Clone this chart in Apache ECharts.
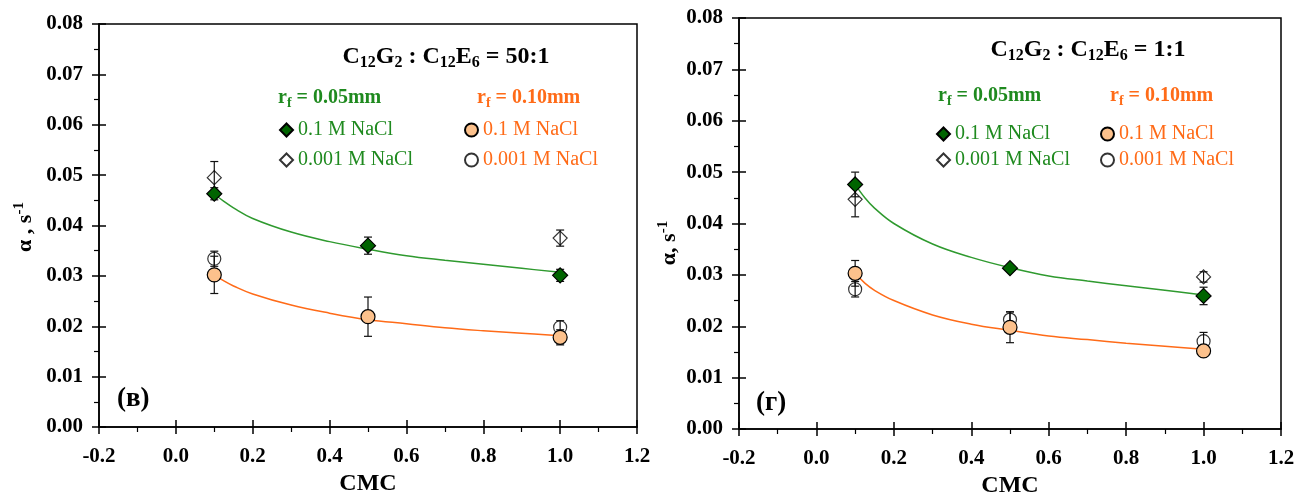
<!DOCTYPE html>
<html>
<head>
<meta charset="utf-8">
<script src="https://cdn.jsdelivr.net/npm/echarts@6/dist/echarts.min.js"></script>
<style>
  html, body { margin: 0; padding: 0; background: #fff; }
  #chart { width: 1294px; height: 497px; }
</style>
</head>
<body>
<div id="chart"></div>
<script>
// Mixed surfactant films: alpha versus concentration (in CMC units)
const FONT = '"Liberation Serif", "Times New Roman", serif';

const cmc = [0.1, 0.5, 1.0];
const fitCmc = [0.1, 0.125, 0.15, 0.2, 0.3, 0.4, 0.5, 0.6, 0.7, 0.8, 0.9, 1.0];

// Panel (в): C12G2 : C12E6 = 50:1
const vGreenSalt = [0.0463, 0.0360, 0.0301];
const vGreenSaltErr = [0.0012, 0.0017, 0.0012];
const vGreenLow = [0.0495, null, 0.0375];
const vGreenLowErr = [0.0032, null, 0.0016];
const vOrangeSalt = [0.0302, 0.0219, 0.0178];
const vOrangeSaltErr = [0.0037, 0.0039, 0.0015];
const vOrangeLow = [0.0334, null, 0.0198];
const vOrangeLowErr = [0.0015, null, 0.0013];
const vGreenFit = [0.0462, 0.0448, 0.0435, 0.0414, 0.0387, 0.0368, 0.0353, 0.0340, 0.0331, 0.0323, 0.0315, 0.0307];
const vOrangeFit = [0.0302, 0.0290, 0.0280, 0.0264, 0.0242, 0.0226, 0.0213, 0.0205, 0.0197, 0.0191, 0.0186, 0.0181];

// Panel (г): C12G2 : C12E6 = 1:1
const gGreenSalt = [0.0476, 0.0313, 0.0259];
const gGreenSaltErr = [0.0024, 0.0004, 0.0017];
const gGreenLow = [0.0447, null, 0.0296];
const gGreenLowErr = [0.0034, null, 0.0010];
const gOrangeSalt = [0.0303, 0.0198, 0.0152];
const gOrangeSaltErr = [0.0025, 0.0030, 0.0010];
const gOrangeLow = [0.0272, 0.0213, 0.0171];
const gOrangeLowErr = [0.0015, 0.0015, 0.0017];
const gGreenFit = [0.0476, 0.0450, 0.0430, 0.0400, 0.0360, 0.0334, 0.0314, 0.0298, 0.0288, 0.0279, 0.0270, 0.0261];
const gOrangeFit = [0.0303, 0.0284, 0.0270, 0.0250, 0.0222, 0.0204, 0.0192, 0.0181, 0.0174, 0.0167, 0.0161, 0.0155];

const panelTitles = ['C12G2 : C12E6 = 50:1', 'C12G2 : C12E6 = 1:1'];
const panelTags = ['(в)', '(г)'];
const yNames = ['α , s', 'α, s'];
const radiusLabels = ['0.05mm', '0.10mm'];
const saltLabels = ['0.1 M NaCl', '0.001 M NaCl'];

const GREEN_TXT = '#1f8a1f';
const GREEN_LINE = '#2f9a2f';
const GREEN_FILL = '#006400';
const ORANGE = '#ff6b18';
const ORANGE_FILL = '#fcc18c';

function pts(vals) {
  const out = [];
  cmc.forEach((x, i) => { if (vals[i] != null) out.push([x, vals[i]]); });
  return out;
}
function bars(vals, errs) {
  const out = [];
  cmc.forEach((x, i) => { if (vals[i] != null) out.push([x, vals[i] - errs[i], vals[i] + errs[i]]); });
  return out;
}
function fit(vals) { return fitCmc.map((x, i) => [x, vals[i]]); }

function errRender(params, api) {
  const x = api.value(0);
  const lo = api.coord([x, api.value(1)]);
  const hi = api.coord([x, api.value(2)]);
  const w = 4;
  const st = { stroke: '#111', lineWidth: 1.2 };
  return {
    type: 'group',
    children: [
      { type: 'line', shape: { x1: lo[0], y1: lo[1], x2: hi[0], y2: hi[1] }, style: st },
      { type: 'line', shape: { x1: lo[0] - w, y1: lo[1], x2: lo[0] + w, y2: lo[1] }, style: st },
      { type: 'line', shape: { x1: hi[0] - w, y1: hi[1], x2: hi[0] + w, y2: hi[1] }, style: st }
    ]
  };
}

const grids = [
  { left: 99, top: 24, width: 538, height: 403 },
  { left: 739, top: 18, width: 542, height: 411 }
].map(g => Object.assign(g, {
  show: true, borderColor: '#000', borderWidth: 1.5, backgroundColor: 'transparent',
  outerBoundsMode: 'none', containLabel: false
}));

const tickLine = { color: '#000', width: 1.5 };
const xAxes = [], yAxes = [];
[0, 1].forEach(gi => {
  xAxes.push({
    gridIndex: gi, type: 'value', min: -0.2, max: 1.2, interval: 0.2, position: 'bottom',
    axisLine: { onZero: false, lineStyle: tickLine },
    axisTick: { inside: false, length: 7, lineStyle: tickLine },
    minorTick: { show: true, splitNumber: 2, length: 5, lineStyle: { color: '#000', width: 1.2 } },
    splitLine: { show: false },
    axisLabel: { fontFamily: FONT, fontWeight: 'bold', fontSize: 21, color: '#000', margin: 19,
      formatter: v => v.toFixed(1) },
    name: 'CMC', nameLocation: 'middle', nameGap: 45,
    nameTextStyle: { fontFamily: FONT, fontWeight: 'bold', fontSize: 24, color: '#000' }
  });
  yAxes.push({
    gridIndex: gi, type: 'value', min: 0, max: 0.08, interval: 0.01, position: 'left',
    axisLine: { onZero: false, lineStyle: tickLine },
    axisTick: { inside: false, length: 7, lineStyle: tickLine },
    minorTick: { show: true, splitNumber: 2, length: 5, lineStyle: { color: '#000', width: 1.2 } },
    splitLine: { show: false },
    axisLabel: { fontFamily: FONT, fontWeight: 'bold', fontSize: 21, color: '#000', margin: 16,
      formatter: v => v.toFixed(2) }
  });
});
// inner halves of the major ticks, so they cross the axis lines
[0, 1].forEach(gi => {
  xAxes.push({
    gridIndex: gi, type: 'value', min: -0.2, max: 1.2, interval: 0.2, position: 'bottom',
    axisLine: { show: false, onZero: false }, axisLabel: { show: false }, splitLine: { show: false },
    axisTick: { inside: true, length: 7, lineStyle: tickLine }
  });
  yAxes.push({
    gridIndex: gi, type: 'value', min: 0, max: 0.08, interval: 0.01, position: 'left',
    axisLine: { show: false, onZero: false }, axisLabel: { show: false }, splitLine: { show: false },
    axisTick: { inside: true, length: 7, lineStyle: tickLine }
  });
});

const panels = [
  { gs: vGreenSalt, gse: vGreenSaltErr, gl: vGreenLow, gle: vGreenLowErr,
    os: vOrangeSalt, ose: vOrangeSaltErr, ol: vOrangeLow, ole: vOrangeLowErr,
    gf: vGreenFit, of: vOrangeFit },
  { gs: gGreenSalt, gse: gGreenSaltErr, gl: gGreenLow, gle: gGreenLowErr,
    os: gOrangeSalt, ose: gOrangeSaltErr, ol: gOrangeLow, ole: gOrangeLowErr,
    gf: gGreenFit, of: gOrangeFit }
];

const series = [];
panels.forEach((p, gi) => {
  const ax = { xAxisIndex: gi, yAxisIndex: gi };
  const tag = panelTags[gi];
  series.push(Object.assign({ type: 'line', name: tag + ' fit 0.05', data: fit(p.gf), smooth: 0.4,
    showSymbol: false, symbol: 'none', lineStyle: { color: GREEN_LINE, width: 1.5 }, z: 1, silent: true }, ax));
  series.push(Object.assign({ type: 'line', name: tag + ' fit 0.10', data: fit(p.of), smooth: 0.4,
    showSymbol: false, symbol: 'none', lineStyle: { color: ORANGE, width: 1.5 }, z: 1, silent: true }, ax));
  [[p.gl, p.gle], [p.gs, p.gse], [p.ol, p.ole], [p.os, p.ose]].forEach(([v, e], k) => {
    series.push(Object.assign({ type: 'custom', name: tag + ' err ' + k, renderItem: errRender,
      data: bars(v, e), encode: { x: 0, y: [1, 2] }, z: 2, silent: true }, ax));
  });
  series.push(Object.assign({ type: 'scatter', name: tag + ' 0.05 low', data: pts(p.gl), symbol: 'diamond',
    symbolSize: 14, itemStyle: { color: 'rgba(255,255,255,0)', borderColor: '#000', borderWidth: 1.2 }, z: 3 }, ax));
  series.push(Object.assign({ type: 'scatter', name: tag + ' 0.10 low', data: pts(p.ol), symbol: 'circle',
    symbolSize: 13, itemStyle: { color: 'rgba(255,255,255,0)', borderColor: '#000', borderWidth: 1.2 }, z: 3 }, ax));
  series.push(Object.assign({ type: 'scatter', name: tag + ' 0.05 salt', data: pts(p.gs), symbol: 'diamond',
    symbolSize: 15, itemStyle: { color: GREEN_FILL, borderColor: '#000', borderWidth: 1.2, opacity: 1 }, z: 4 }, ax));
  series.push(Object.assign({ type: 'scatter', name: tag + ' 0.10 salt', data: pts(p.os), symbol: 'circle',
    symbolSize: 14, itemStyle: { color: ORANGE_FILL, borderColor: '#000', borderWidth: 1.2, opacity: 1 }, z: 4 }, ax));
});

// legend blocks: [panel, series suffix, label index, colour, left, top]
const legendSpots = [
  [0, ' 0.05 salt', 0, GREEN_TXT, 279, 120], [0, ' 0.05 low', 1, GREEN_TXT, 279, 150],
  [0, ' 0.10 salt', 0, ORANGE, 464, 120], [0, ' 0.10 low', 1, ORANGE, 464, 150],
  [1, ' 0.05 salt', 0, GREEN_TXT, 936, 124], [1, ' 0.05 low', 1, GREEN_TXT, 936, 150],
  [1, ' 0.10 salt', 0, ORANGE, 1100, 124], [1, ' 0.10 low', 1, ORANGE, 1100, 150]
];
const legends = legendSpots.map(([gi, suf, li, col, l, t]) => ({
  left: l, top: t, padding: 0, itemWidth: 13, itemHeight: 13, selectedMode: false,
  data: [panelTags[gi] + suf],
  formatter: () => saltLabels[li],
  textStyle: { fontFamily: FONT, fontSize: 20, color: col, padding: [0, 0, 0, 0] }
}));

function subText(str) {
  // digits after a letter become subscripts
  return str.replace(/([A-Z])(\d+)/g, '$1\u0000$2\u0001')
    .split(/(\u0000\d+\u0001)/)
    .filter(s => s.length)
    .map(s => s[0] === '\u0000' ? '{s|' + s.slice(1, -1) + '}' : '{t|' + s + '}')
    .join('');
}

const titleRich = {
  t: { fontFamily: FONT, fontWeight: 'bold', fontSize: 24, lineHeight: 28, fill: '#000' },
  s: { fontFamily: FONT, fontWeight: 'bold', fontSize: 16, lineHeight: 12, verticalAlign: 'bottom', fill: '#000' }
};
function rfRich(col) {
  return {
    t: { fontFamily: FONT, fontWeight: 'bold', fontSize: 20, lineHeight: 24, fill: col },
    s: { fontFamily: FONT, fontWeight: 'bold', fontSize: 14, lineHeight: 10, verticalAlign: 'bottom', fill: col }
  };
}
const nameRich = {
  a: { fontFamily: FONT, fontWeight: 'bold', fontSize: 22, lineHeight: 26, fill: '#000' },
  p: { fontFamily: FONT, fontWeight: 'bold', fontSize: 15, lineHeight: 10, verticalAlign: 'top', fill: '#000' }
};

const layout = [
  { title: [446, 57], rf: [[278, 98], [477, 98]], tag: [117, 399], yname: [25, 227] },
  { title: [1088, 50], rf: [[938, 96], [1110, 96]], tag: [756, 403], yname: [669, 243] }
];
const graphic = [];
layout.forEach((L, gi) => {
  graphic.push({ type: 'text', x: L.title[0], y: L.title[1], silent: true,
    style: { text: subText(panelTitles[gi]), rich: titleRich, align: 'center', verticalAlign: 'middle' } });
  [GREEN_TXT, ORANGE].forEach((col, k) => {
    graphic.push({ type: 'text', x: L.rf[k][0], y: L.rf[k][1], silent: true,
      style: { text: '{t|r}{s|f}{t| = ' + radiusLabels[k] + '}', rich: rfRich(col), align: 'left', verticalAlign: 'middle' } });
  });
  graphic.push({ type: 'text', x: L.tag[0], y: L.tag[1], silent: true,
    style: { text: panelTags[gi], fontFamily: FONT, fontWeight: 'bold', fontSize: 27, fill: '#000',
      align: 'left', verticalAlign: 'middle' } });
  graphic.push({ type: 'text', x: L.yname[0], y: L.yname[1], rotation: Math.PI / 2, silent: true,
    style: { text: '{a|' + yNames[gi] + '}{p|-1}', rich: nameRich, align: 'center', verticalAlign: 'middle' } });
});

const chart = echarts.init(document.getElementById('chart'), null, { renderer: 'canvas' });
chart.setOption({
  backgroundColor: '#fff',
  animation: false,
  grid: grids,
  xAxis: xAxes,
  yAxis: yAxes,
  legend: legends,
  series: series,
  graphic: graphic
});
</script>
</body>
</html>
